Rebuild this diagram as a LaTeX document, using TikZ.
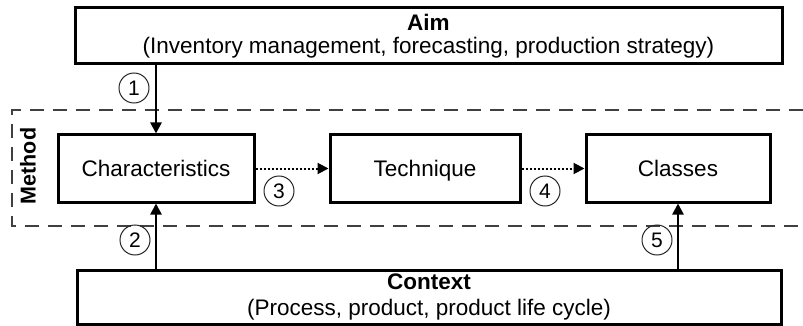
\documentclass[tikz,border=0pt]{standalone}
\usepackage{fontspec}
\setmainfont{Liberation Sans}
\usetikzlibrary{arrows.meta}
\begin{document}
\begin{tikzpicture}[x=1pt,y=-1pt,
  txt/.style={font=\fontsize{22.5}{23.5}\selectfont},
  box/.style={draw=black,line width=3pt,fill=white,txt,align=center,inner sep=0pt},
  stepbox/.style={box,minimum height=67pt,text height=18pt,text depth=3pt},
  num/.style={draw=black!85,line width=1pt,circle,minimum size=30pt,inner sep=0pt,
    font=\fontsize{21}{22}\selectfont},
  arr/.style={line width=2.4pt,-{Triangle[length=11pt,width=11pt]}},
  dotarr/.style={line width=2pt,dash pattern=on 2pt off 2pt,-{Triangle[length=11pt,width=11pt]}},
  frame/.style={draw=black!75,line width=2.2pt,dash pattern=on 14pt off 9pt}
]
\useasboundingbox (0,0) rectangle (803,326);

% method frame (open on the right)
\draw[frame] (803,110) -- (12,110) -- (12,226) -- (803,226);
\node[font=\fontsize{21.5}{22}\selectfont\bfseries,rotate=90] (method) at (28,166) {Method};

% boxes
\node[box,minimum width=707pt,minimum height=56pt] (aim) at (428.5,36)
  {\textbf{Aim}\\(Inventory management, forecasting, production strategy)};
\node[stepbox,minimum width=196pt] (char) at (156,168.5) {Characteristics};
\node[stepbox,minimum width=190pt] (tech) at (425,168.5) {Technique};
\node[stepbox,minimum width=184pt] (cls) at (678,168.5) {Classes};
\node[box,minimum width=704pt,minimum height=54pt,font=\fontsize{22.5}{25}\selectfont] (ctx) at (429,297)
  {\textbf{Context}\\[1pt](Process, product, product life cycle)};

% connectors
\draw[arr] (char.north |- aim.south) -- (char.north);
\draw[arr] (char.south |- ctx.north) -- (char.south);
\draw[arr] (cls.south |- ctx.north) -- (cls.south);
\draw[dotarr] (char.east) -- (tech.west);
\draw[dotarr] (tech.east) -- (cls.west);

% step numbers
\node[num] (n1) at (134,88) {1};
\node[num] (n2) at (135,240) {2};
\node[num] (n3) at (279,191) {3};
\node[num] (n4) at (545,191) {4};
\node[num] (n5) at (657,240) {5};
\end{tikzpicture}
\end{document}
